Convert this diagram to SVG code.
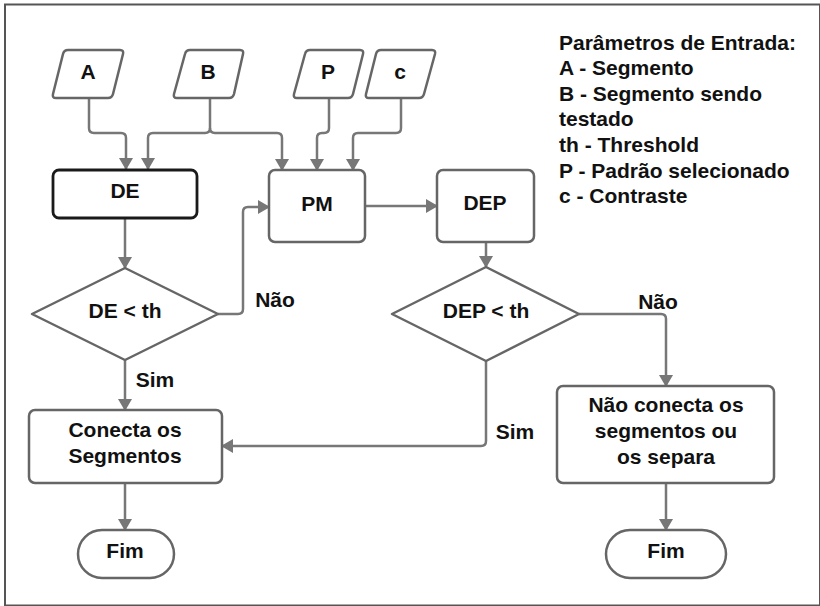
<svg xmlns="http://www.w3.org/2000/svg" width="820" height="606" viewBox="0 0 820 606">
<defs>
<marker id="ah" markerWidth="12" markerHeight="14" refX="11" refY="7" orient="auto" markerUnits="userSpaceOnUse">
<path d="M0,0 L12,7 L0,14 Z" fill="#777"/>
</marker>
<style>
.n{fill:#fff;stroke:#666;stroke-width:2.5;stroke-linejoin:round}
.dk{fill:#fff;stroke:#1a1a1a;stroke-width:2.8}
.t{font-family:"Liberation Sans",Arial,sans-serif;font-weight:bold;font-size:21px;fill:#111;text-anchor:middle}
.l{font-family:"Liberation Sans",Arial,sans-serif;font-weight:bold;font-size:21px;fill:#111}
.c{fill:none;stroke:#777;stroke-width:2.5;stroke-linejoin:round}
</style>
</defs>
<rect x="5" y="4.5" width="815" height="601" fill="#fff" stroke="#555" stroke-width="2"/>
<g id="connectors">
<path class="c" d="M89,98 V128 Q89,133 94,133 H121 Q126,133 126,138 V169" marker-end="url(#ah)"/>
<path class="c" d="M210,98 V128 Q210,133 205,133 H153 Q148,133 148,138 V169" marker-end="url(#ah)"/>
<path class="c" d="M210,128 Q210,133 215,133 H277 Q282,133 282,138 V170" marker-end="url(#ah)"/>
<path class="c" d="M329,98 V128 Q329,133 324,133 H322 Q317,133 317,138 V170" marker-end="url(#ah)"/>
<path class="c" d="M401,98 V128 Q401,133 396,133 H358 Q353,133 353,138 V170" marker-end="url(#ah)"/>
<path class="c" d="M365,206 H437" marker-end="url(#ah)"/>
<path class="c" d="M125,218 V268" marker-end="url(#ah)"/>
<path class="c" d="M218,314 H238 Q243,314 243,309 V212 Q243,207 248,207 H269" marker-end="url(#ah)"/>
<path class="c" d="M486,242 V267" marker-end="url(#ah)"/>
<path class="c" d="M579,314 H661 Q666,314 666,319 V386" marker-end="url(#ah)"/>
<path class="c" d="M486,361 V441 Q486,446 481,446 H222" marker-end="url(#ah)"/>
<path class="c" d="M125,360 V410" marker-end="url(#ah)"/>
<path class="c" d="M125,483 V530" marker-end="url(#ah)"/>
<path class="c" d="M666,483 V530" marker-end="url(#ah)"/>
</g>
<g id="A"><path class="n" d="M68,50 H120 Q124,50 123,54 L113,94 Q112,98 108,98 H56 Q52,98 53,94 L63,54 Q64,50 68,50 Z"/><text class="t" x="88" y="79">A</text></g>
<g id="B"><path class="n" d="M190,50 H240 Q244,50 243,54 L234,94 Q233,98 229,98 H177 Q173,98 174,94 L185,54 Q186,50 190,50 Z"/><text class="t" x="208" y="79">B</text></g>
<g id="P"><path class="n" d="M310,50 H360 Q364,50 363,54 L353,94 Q352,98 348,98 H297 Q293,98 294,94 L305,54 Q306,50 310,50 Z"/><text class="t" x="328" y="79">P</text></g>
<g id="c"><path class="n" d="M381,50 H432 Q436,50 435,54 L424,94 Q423,98 419,98 H369 Q365,98 366,94 L376,54 Q377,50 381,50 Z"/><text class="t" x="400" y="79">c</text></g>
<g id="DE"><rect class="dk" x="53" y="170" width="144" height="48" rx="6"/><text class="t" x="125" y="198">DE</text></g>
<g id="PM"><rect class="n" x="269" y="170" width="96" height="72" rx="6"/><text class="t" x="317" y="211">PM</text></g>
<g id="DEP"><rect class="n" x="437" y="170" width="97" height="72" rx="6"/><text class="t" x="485" y="210">DEP</text></g>
<g id="DEth"><path class="n" d="M125,268 L218,314 L125,360 L32,314 Z"/><text class="t" x="125" y="318">DE &lt; th</text></g>
<g id="DEPth"><path class="n" d="M486,267 L579,314 L486,361 L392,314 Z"/><text class="t" x="486" y="318">DEP &lt; th</text></g>
<g id="Conecta"><rect class="n" x="29" y="410" width="193" height="73" rx="6"/><text class="t" x="125" y="437">Conecta os</text><text class="t" x="125" y="463">Segmentos</text></g>
<g id="NaoConecta"><rect class="n" x="557" y="386" width="217" height="97" rx="6"/><text class="t" x="666" y="412">Não conecta os</text><text class="t" x="666" y="438">segmentos ou</text><text class="t" x="666" y="464">os separa</text></g>
<g id="Fim1"><rect class="n" x="78" y="530" width="96" height="48" rx="24"/><text class="t" x="125" y="558">Fim</text></g>
<g id="Fim2"><rect class="n" x="606" y="530" width="120" height="48" rx="24"/><text class="t" x="666" y="558">Fim</text></g>
<g id="labels">
<text class="t" x="275" y="307">Não</text>
<text class="t" x="155" y="387">Sim</text>
<text class="t" x="658" y="309">Não</text>
<text class="t" x="515" y="439">Sim</text>
</g>
<g id="legend">
<text class="l" x="559" y="49.5">Parâmetros de Entrada:</text>
<text class="l" x="559" y="75.1">A - Segmento</text>
<text class="l" x="559" y="100.7">B - Segmento sendo</text>
<text class="l" x="559" y="126.3">testado</text>
<text class="l" x="559" y="151.9">th - Threshold</text>
<text class="l" x="559" y="177.5">P - Padrão selecionado</text>
<text class="l" x="559" y="203.1">c - Contraste</text>
</g>
</svg>
